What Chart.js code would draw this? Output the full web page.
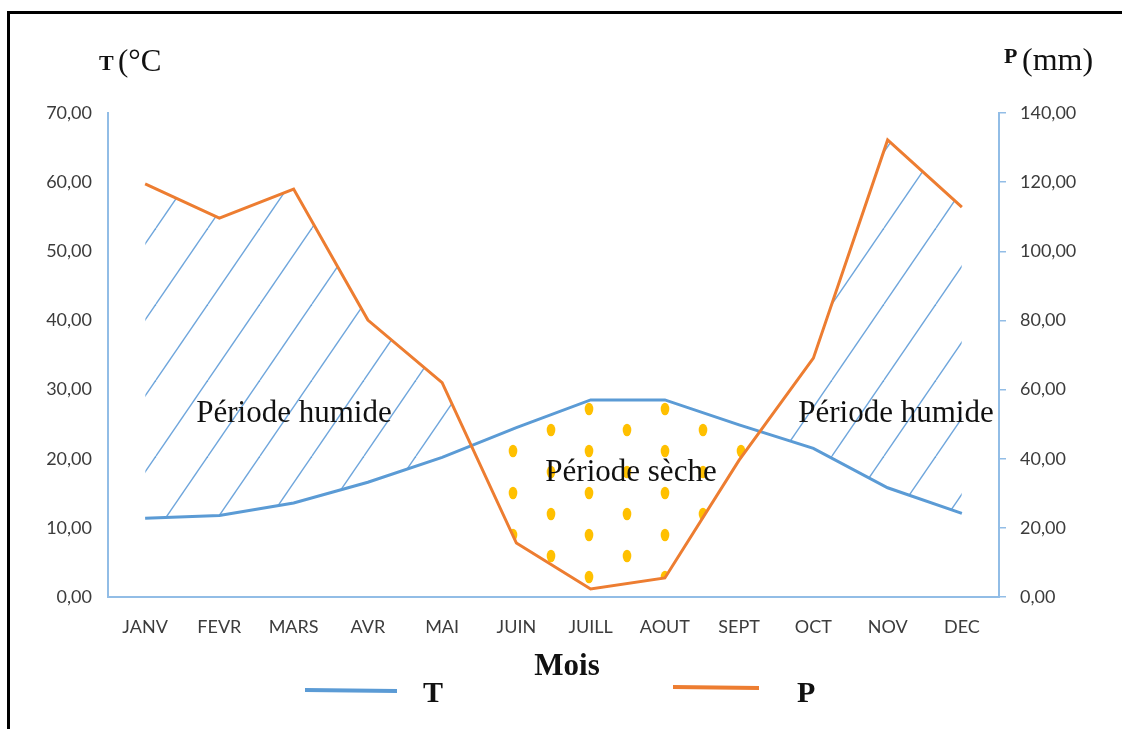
<!DOCTYPE html>
<html>
<head>
<meta charset="utf-8">
<script src="https://cdn.jsdelivr.net/npm/chart.js@4.4.1/dist/chart.umd.min.js"></script>
<style>
  html, body { margin: 0; padding: 0; background: #fff; }
  #wrap { position: relative; width: 1122px; height: 729px; overflow: hidden; }
  #wrap canvas { position: absolute; left: 0; top: 0; }
  #frame {
    position: absolute; left: 7px; top: 11px; right: -10px; bottom: -10px;
    border-left: 3px solid #000; border-top: 3px solid #000; pointer-events: none;
  }
</style>
</head>
<body>
<div id="wrap">
  <canvas id="climo" width="1122" height="729"></canvas>
  <div id="frame"></div>
</div>
<script>
// Mois de l'année (axe des abscisses)
const months = ['JANV', 'FEVR', 'MARS', 'AVR', 'MAI', 'JUIN', 'JUILL', 'AOUT', 'SEPT', 'OCT', 'NOV', 'DEC'];
// Température moyenne mensuelle (°C)
const temperature = [11.4, 11.8, 13.6, 16.6, 20.2, 24.5, 28.5, 28.5, 24.9, 21.5, 15.8, 12.1];
// Précipitations moyennes mensuelles (mm)
const precipitation = [119.5, 109.6, 118.0, 80.1, 62.0, 15.6, 2.3, 5.5, 39.6, 69.1, 132.2, 112.8];
// Graduations des deux axes (P = 2T)
const tempTicks = [0, 10, 20, 30, 40, 50, 60, 70];
const precipTicks = [0, 20, 40, 60, 80, 100, 120, 140];

const BLUE = '#5B9BD5';
const ORANGE = '#ED7D31';
const AXIS = '#92BDE6';
const TICK_TXT = '#3c3c3c';
const SERIF = '"Liberation Serif", "Times New Roman", serif';
const SANS = 'Lato, "Open Sans", sans-serif';

const fmt = v => Number(v).toFixed(2).replace('.', ',');

// Hachures obliques : période humide (P au-dessus de 2T)
function makeHatch() {
  const w = 52, h = 76;
  const c = document.createElement('canvas');
  c.width = w; c.height = h;
  const g = c.getContext('2d');
  g.strokeStyle = '#6FA6DC';
  g.lineWidth = 1.4;
  for (const dx of [-w, 0, w]) {
    g.beginPath();
    g.moveTo(dx, h);
    g.lineTo(dx + w, 0);
    g.stroke();
  }
  return g.createPattern(c, 'repeat');
}

// Pointillés jaunes : période sèche (P sous 2T)
function makeDots() {
  const w = 76, h = 42;
  const c = document.createElement('canvas');
  c.width = w; c.height = h;
  const g = c.getContext('2d');
  g.fillStyle = '#FFC000';
  for (const [x, y] of [[19, 10], [57, 31]]) {
    g.beginPath();
    g.ellipse(x, y, 4.3, 6.3, 0, 0, Math.PI * 2);
    g.fill();
  }
  return g.createPattern(c, 'repeat');
}

// Textes : titres d'axes, annotations des périodes et légende
const decor = {
  id: 'decor',
  afterDatasetsDraw(chart) {
    const { ctx, chartArea: ca } = chart;
    ctx.save();
    ctx.fillStyle = '#111';
    ctx.textBaseline = 'alphabetic';

    // Titres des axes verticaux
    ctx.textAlign = 'left';
    ctx.font = 'bold 22px ' + SERIF;
    ctx.fillText('T', ca.left - 9, ca.top - 43);
    ctx.font = '31px ' + SERIF;
    ctx.fillText('(°C', ca.left + 10, ca.top - 42);

    ctx.font = 'bold 22px ' + SERIF;
    ctx.fillText('P', ca.right + 5, ca.top - 50);
    ctx.font = '32px ' + SERIF;
    ctx.fillText('(mm)', ca.right + 23, ca.top - 43);

    // Annotations des périodes
    ctx.textAlign = 'center';
    ctx.font = '31px ' + SERIF;
    ctx.fillText('Période humide', ca.left + 186, ca.top + 309);
    ctx.fillText('Période humide', ca.left + 788, ca.top + 309);
    ctx.fillText('Période sèche', ca.left + 523, ca.top + 368);

    // Titre de l'axe des abscisses
    ctx.font = 'bold 31px ' + SERIF;
    ctx.fillText('Mois', ca.left + 459, ca.bottom + 78);

    // Légende
    const slots = [
      { x: ca.left + 197, len: 92, y: ca.bottom + 93, tx: ca.left + 315 },
      { x: ca.left + 565, len: 86, y: ca.bottom + 90, tx: ca.left + 689 }
    ];
    chart.data.datasets.forEach((ds, i) => {
      const s = slots[i];
      ctx.strokeStyle = ds.borderColor;
      ctx.lineWidth = 4;
      ctx.beginPath();
      ctx.moveTo(s.x, s.y);
      ctx.lineTo(s.x + s.len, s.y + 1);
      ctx.stroke();
      ctx.fillStyle = '#111';
      ctx.textAlign = 'left';
      ctx.font = 'bold 30px ' + SERIF;
      ctx.fillText(ds.label, s.tx, ca.bottom + 105);
    });
    ctx.restore();
  }
};

new Chart(document.getElementById('climo'), {
  type: 'line',
  data: {
    labels: months,
    datasets: [
      {
        label: 'T',
        data: temperature,
        yAxisID: 'y',
        borderColor: BLUE,
        backgroundColor: BLUE,
        borderWidth: 3,
        pointRadius: 0,
        tension: 0,
        fill: false,
        order: 1
      },
      {
        label: 'P',
        data: precipitation,
        yAxisID: 'y1',
        borderColor: ORANGE,
        backgroundColor: ORANGE,
        borderWidth: 3,
        pointRadius: 0,
        tension: 0,
        fill: { target: 0, above: makeHatch(), below: makeDots() },
        order: 0
      }
    ]
  },
  options: {
    responsive: false,
    animation: false,
    devicePixelRatio: 1,
    layout: { padding: { top: 113, left: 0, right: 0, bottom: 0 } },
    plugins: {
      legend: { display: false },
      tooltip: { enabled: false },
      filler: { drawTime: 'beforeDatasetsDraw' }
    },
    scales: {
      x: {
        type: 'category',
        offset: true,
        grid: { display: false, drawTicks: false },
        border: { display: true, color: AXIS, width: 2 },
        ticks: { color: TICK_TXT, font: { family: SANS, size: 18 }, padding: 19, maxRotation: 0, autoSkip: false },
        afterFit: s => { s.height = 132; }
      },
      y: {
        position: 'left',
        min: 0, max: 70,
        afterBuildTicks: s => { s.ticks = tempTicks.map(v => ({ value: v })); },
        grid: { display: false, drawTicks: false },
        border: { display: true, color: AXIS, width: 2 },
        ticks: { color: TICK_TXT, font: { family: SANS, size: 18 }, padding: 16, callback: fmt },
        afterFit: s => { s.width = 108; }
      },
      y1: {
        position: 'right',
        min: 0, max: 140,
        afterBuildTicks: s => { s.ticks = precipTicks.map(v => ({ value: v })); },
        grid: { display: true, drawOnChartArea: false, drawTicks: true, tickLength: 7, color: AXIS, lineWidth: 1.5 },
        border: { display: true, color: AXIS, width: 2 },
        ticks: { color: TICK_TXT, font: { family: SANS, size: 18 }, padding: 14, callback: fmt },
        afterFit: s => { s.width = 123; }
      }
    }
  },
  plugins: [decor]
});
</script>
</body>
</html>
